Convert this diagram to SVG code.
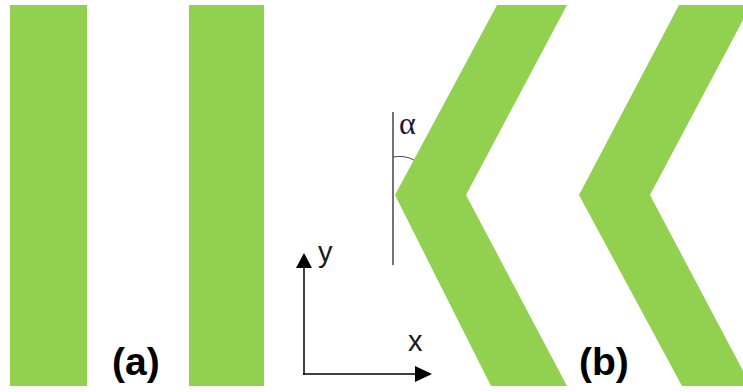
<svg xmlns="http://www.w3.org/2000/svg" width="743" height="392" viewBox="0 0 743 392">
<style>
.g{fill:#92D050}
.lbl{font-family:"Liberation Sans",Arial,sans-serif;font-weight:bold;font-size:39px;fill:#000}
.ax{font-family:"Liberation Sans",Arial,sans-serif;font-size:29px;fill:#1a1a1a}
.axl{stroke:#000;stroke-width:1.5;fill:none}
</style>
<rect width="743" height="392" fill="#fff"/>
<g id="panel-a">
<rect class="g" x="10" y="5" width="77" height="381"/>
<rect class="g" x="189" y="5" width="75" height="381"/>
<text class="lbl" x="112" y="375">(a)</text>
</g>
<g id="panel-b">
<polygon class="g" points="497,5 567,5 466,195 567,386 491,386 395,195"/>
<polygon class="g" points="679,5 751,5 650,195 751,386 682,386 579,195"/>
<text class="lbl" x="579" y="375">(b)</text>
</g>
<g id="angle">
<line x1="393" y1="112" x2="393" y2="265" stroke="#444" stroke-width="1.5"/>
<path d="M393,157 Q405,155 414,160" stroke="#444" stroke-width="1" fill="none"/>
<text x="399" y="134" font-family="Liberation Serif,serif" font-size="32" fill="#1a1a3a">α</text>
</g>
<g id="axes">
<line class="axl" x1="304" y1="375" x2="304" y2="266"/>
<line class="axl" x1="303" y1="374" x2="417" y2="374"/>
<polygon points="304,253 296,268 312,268" fill="#000"/>
<polygon points="432,374 415,366 415,382" fill="#000"/>
<text class="ax" x="318" y="262">y</text>
<text class="ax" x="408" y="351">x</text>
</g>
</svg>
